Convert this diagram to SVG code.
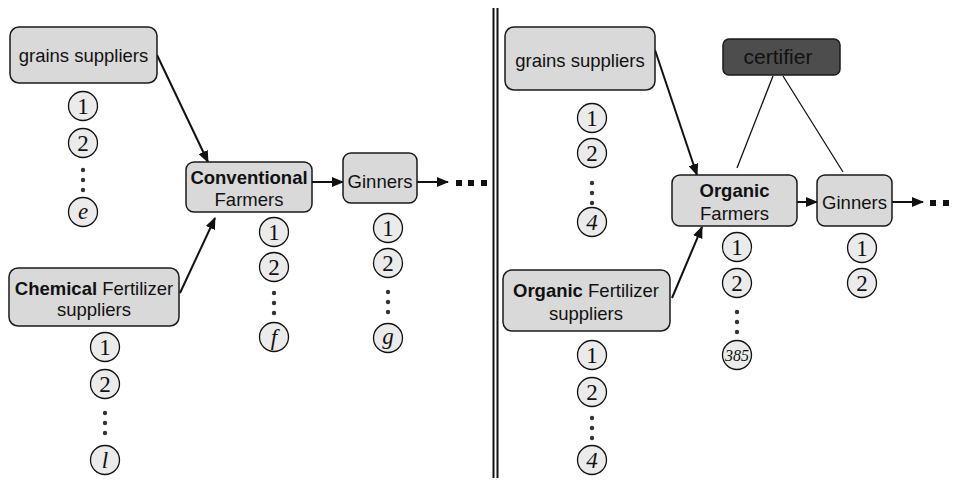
<svg xmlns="http://www.w3.org/2000/svg" width="955" height="483" viewBox="0 0 955 483">
<defs>
<marker id="ah" markerUnits="userSpaceOnUse" markerWidth="12" markerHeight="10" refX="11" refY="5" orient="auto">
<path d="M0,0 L12,5 L0,10 z" fill="#111"/>
</marker>
<style>
.box{fill:#d9d9d9;stroke:#1a1a1a;stroke-width:1.5}
.cert{fill:#4d4d4d;stroke:#1a1a1a;stroke-width:1.5}
.t{font-family:"Liberation Sans",Arial,sans-serif;font-size:18.5px;fill:#111;text-anchor:middle}
.b{font-weight:bold}
.c{fill:#ebebeb;stroke:#111;stroke-width:1.3}
.n{font-family:"Liberation Serif","Times New Roman",serif;font-size:23px;fill:#111;text-anchor:middle}
.i{font-style:italic}
.d{fill:#333}
.arr{stroke:#111;stroke-width:2;fill:none;marker-end:url(#ah)}
.ln{stroke:#111;stroke-width:1.3;fill:none}
.sq{fill:#111}
</style>
</defs>
<rect width="955" height="483" fill="#fff"/>

<!-- connectors -->
<g id="connectors">
<line class="arr" x1="157" y1="55" x2="208" y2="162"/>
<line class="arr" x1="180" y1="293" x2="215" y2="218"/>
<line class="arr" x1="312" y1="182" x2="343" y2="182"/>
<line class="arr" x1="417" y1="182" x2="448" y2="182"/>
<rect class="sq" x="456" y="180" width="6" height="6"/>
<rect class="sq" x="468" y="180" width="6" height="6"/>
<rect class="sq" x="481" y="180" width="6" height="6"/>
<line class="arr" x1="655" y1="50" x2="697" y2="175"/>
<line class="arr" x1="672" y1="298" x2="702" y2="227"/>
<line class="arr" x1="797" y1="202" x2="817" y2="202"/>
<line class="arr" x1="892" y1="202" x2="923" y2="202"/>
<rect class="sq" x="930" y="200" width="6" height="6"/>
<rect class="sq" x="943" y="200" width="6" height="6"/>
<line class="ln" x1="773" y1="76" x2="737" y2="168"/>
<line class="ln" x1="783" y1="76" x2="843" y2="172"/>
</g>

<!-- divider -->
<g id="divider">
<line x1="493.5" y1="8" x2="493.5" y2="478" stroke="#111" stroke-width="2"/>
<line x1="497.5" y1="8" x2="497.5" y2="478" stroke="#111" stroke-width="2"/>
</g>

<!-- left side -->
<g id="grains-conv">
<rect class="box" x="10" y="27" width="147" height="56" rx="9"/>
<text class="t" x="83.5" y="61.5">grains suppliers</text>
<circle class="c" cx="83" cy="106" r="14.5"/><text class="n" x="83" y="114">1</text>
<circle class="c" cx="83" cy="143" r="14.5"/><text class="n" x="83" y="151">2</text>
<circle class="d" cx="83" cy="170" r="2.2"/><circle class="d" cx="83" cy="180" r="2.2"/><circle class="d" cx="83" cy="190" r="2.2"/>
<circle class="c" cx="83" cy="212" r="14.5"/><text class="n i" x="83" y="219">e</text>
</g>

<g id="chem-fert">
<rect class="box" x="9" y="268" width="170" height="58" rx="9"/>
<text class="t" x="94" y="294.5"><tspan class="b">Chemical</tspan> Fertilizer</text>
<text class="t" x="94" y="315.5">suppliers</text>
<circle class="c" cx="105" cy="347" r="14.5"/><text class="n" x="105" y="355">1</text>
<circle class="c" cx="105" cy="384" r="14.5"/><text class="n" x="105" y="392">2</text>
<circle class="d" cx="105" cy="413" r="2.2"/><circle class="d" cx="105" cy="423" r="2.2"/><circle class="d" cx="105" cy="433" r="2.2"/>
<circle class="c" cx="105" cy="460" r="14.5"/><text class="n i" x="105" y="468">l</text>
</g>

<g id="conv-farmers">
<rect class="box" x="186" y="162" width="126" height="50" rx="8"/>
<text class="t b" x="249" y="183.5">Conventional</text>
<text class="t" x="249" y="205.5">Farmers</text>
<circle class="c" cx="274" cy="232" r="14.5"/><text class="n" x="274" y="240">1</text>
<circle class="c" cx="274" cy="267" r="14.5"/><text class="n" x="274" y="275">2</text>
<circle class="d" cx="274" cy="293" r="2.2"/><circle class="d" cx="274" cy="303" r="2.2"/><circle class="d" cx="274" cy="313" r="2.2"/>
<circle class="c" cx="274" cy="337" r="14.5"/><text class="n i" x="274" y="345">f</text>
</g>

<g id="conv-ginners">
<rect class="box" x="343" y="153" width="74" height="50" rx="8"/>
<text class="t" x="380" y="187.5">Ginners</text>
<circle class="c" cx="388" cy="228" r="14.5"/><text class="n" x="388" y="236">1</text>
<circle class="c" cx="388" cy="263" r="14.5"/><text class="n" x="388" y="271">2</text>
<circle class="d" cx="388" cy="292" r="2.2"/><circle class="d" cx="388" cy="302" r="2.2"/><circle class="d" cx="388" cy="312" r="2.2"/>
<circle class="c" cx="388" cy="338" r="14.5"/><text class="n i" x="388" y="344">g</text>
</g>

<!-- right side -->
<g id="grains-org">
<rect class="box" x="505" y="27" width="150" height="63" rx="9"/>
<text class="t" x="580" y="66.5">grains suppliers</text>
<circle class="c" cx="592" cy="118" r="14.5"/><text class="n" x="592" y="126">1</text>
<circle class="c" cx="592" cy="153" r="14.5"/><text class="n" x="592" y="161">2</text>
<circle class="d" cx="592" cy="183" r="2.2"/><circle class="d" cx="592" cy="193" r="2.2"/><circle class="d" cx="592" cy="203" r="2.2"/>
<circle class="c" cx="592" cy="222" r="14.5"/><text class="n i" x="592" y="230">4</text>
</g>

<g id="certifier">
<rect class="cert" x="723" y="39" width="117" height="36" rx="6"/>
<text class="t" x="778" y="64" style="font-size:21px;fill:#111">certifier</text>
</g>

<g id="org-fert">
<rect class="box" x="503" y="270" width="167" height="61" rx="9"/>
<text class="t" x="586" y="296.5"><tspan class="b">Organic</tspan> Fertilizer</text>
<text class="t" x="586" y="319.5">suppliers</text>
<circle class="c" cx="592" cy="355" r="14.5"/><text class="n" x="592" y="363">1</text>
<circle class="c" cx="592" cy="392" r="14.5"/><text class="n" x="592" y="400">2</text>
<circle class="d" cx="592" cy="418" r="2.2"/><circle class="d" cx="592" cy="428" r="2.2"/><circle class="d" cx="592" cy="438" r="2.2"/>
<circle class="c" cx="592" cy="460" r="14.5"/><text class="n i" x="592" y="468">4</text>
</g>

<g id="org-farmers">
<rect class="box" x="672" y="175" width="125" height="51" rx="8"/>
<text class="t b" x="734.5" y="196.5">Organic</text>
<text class="t" x="734.5" y="219.5">Farmers</text>
<circle class="c" cx="737" cy="247" r="14.5"/><text class="n" x="737" y="255">1</text>
<circle class="c" cx="737" cy="283" r="14.5"/><text class="n" x="737" y="291">2</text>
<circle class="d" cx="737" cy="312" r="2.2"/><circle class="d" cx="737" cy="322" r="2.2"/><circle class="d" cx="737" cy="332" r="2.2"/>
<circle class="c" cx="737" cy="355" r="14.5"/><text class="n i" x="737" y="361" style="font-size:16px">385</text>
</g>

<g id="org-ginners">
<rect class="box" x="817" y="175" width="75" height="51" rx="8"/>
<text class="t" x="854.5" y="208.5">Ginners</text>
<circle class="c" cx="862" cy="248" r="14.5"/><text class="n" x="862" y="256">1</text>
<circle class="c" cx="862" cy="283" r="14.5"/><text class="n" x="862" y="291">2</text>
</g>
</svg>
